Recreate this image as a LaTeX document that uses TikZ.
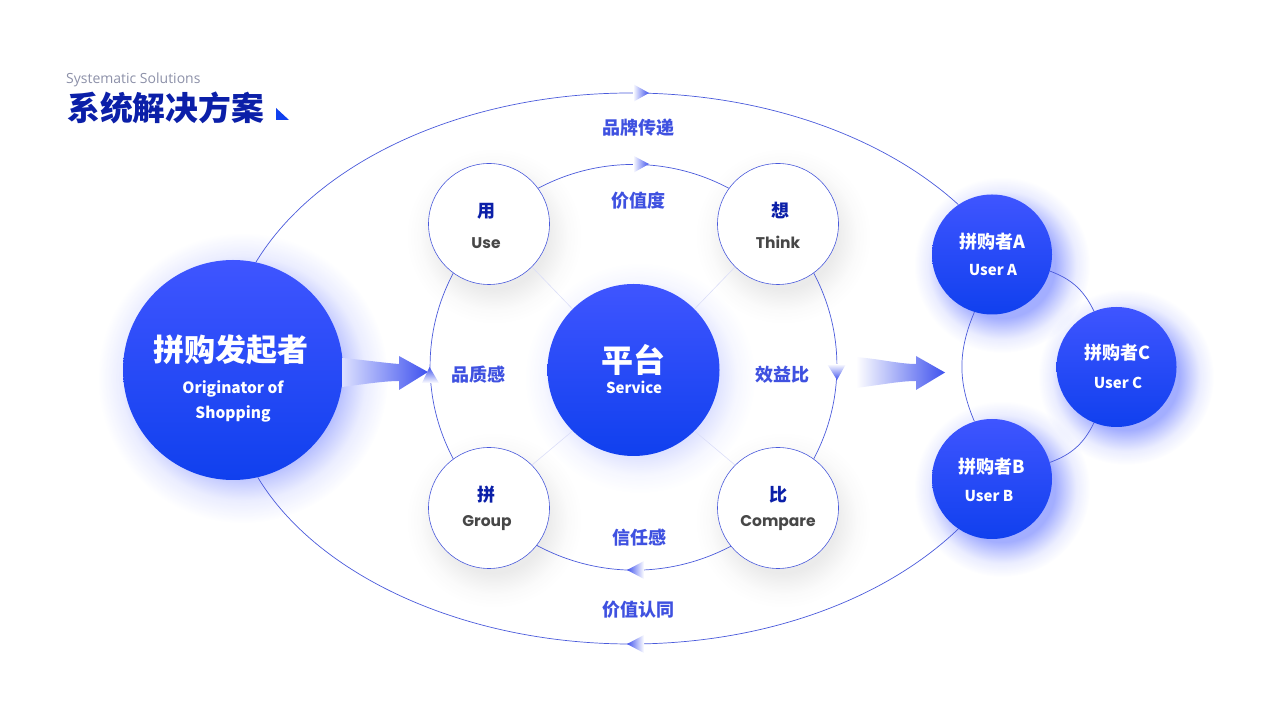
\documentclass[tikz,border=0pt]{standalone}
\usepackage{fontspec}
\setmainfont{Noto Sans CJK SC}
\newfontfamily\pop{Poppins}
\newfontfamily\opn{Open Sans}
\usetikzlibrary{fadings}
\pgfdeclareradialshading{glowsh}{\pgfpointorigin}{rgb(0bp)=(1,1,1); rgb(15bp)=(1,1,1); rgb(18bp)=(.6,.6,.6); rgb(21bp)=(.22,.22,.22); rgb(25bp)=(0,0,0); rgb(100bp)=(0,0,0)}
\pgfdeclarefading{glowfade}{\pgfuseshading{glowsh}}
\definecolor{navy}{HTML}{0B1FA8}
\definecolor{lab}{HTML}{3F51E0}
\definecolor{ln}{HTML}{4A5ADB}
\definecolor{bluetop}{HTML}{3F55FF}
\definecolor{bluebot}{HTML}{1040EE}
\definecolor{arrowblue}{HTML}{3F52EE}
\definecolor{subgray}{HTML}{8C90A8}
\tikzset{
 ballnode/.style={circle,inner sep=0pt,minimum size=#1,top color=bluetop,bottom color=bluebot},
 ringnode/.style={circle,inner sep=0pt,minimum size=121pt,fill=white,draw=ln,line width=.6pt},
 link/.style={draw=ln,line width=.7pt},
 spoke/.style={draw=ln!20,line width=.6pt},
 arcbend/.style={looseness=.91},
 ttl/.style={font=\bfseries\fontsize{#1}{#1}\selectfont,inner sep=0pt,text=white},
 labeltext/.style={font=\bfseries\fontsize{18}{18}\selectfont,inner sep=0pt,text=lab},
 cnname/.style={font=\bfseries\fontsize{18}{18}\selectfont,inner sep=0pt,text=navy},
 enname/.style={font=\pop\bfseries\fontsize{15.5}{15.5}\selectfont,inner sep=0pt,text=black!72},
 glowb/.style={fill=bluetop,fill opacity=.48,path fading=glowfade},
 glowh/.style={fill=bluetop,fill opacity=.22,path fading=glowfade},
 glowg/.style={fill=black,fill opacity=.08,path fading=glowfade},
}
\begin{document}
\begin{tikzpicture}[x=1pt,y=1pt]
\useasboundingbox (0,0) rectangle (1280,720);
% glows
\fill[glowb] (243,342) circle (145);
\fill[glowb] (1002,455) circle (88);
\fill[glowb] (1002,231) circle (88);
\fill[glowb] (1126,343) circle (88);
\fill[glowh] (640,342) circle (115);
\fill[glowg] (494,484) circle (88);
\fill[glowg] (783,484) circle (88);
\fill[glowg] (494,200) circle (88);
\fill[glowg] (783,200) circle (88);
% main nodes
\node[ballnode=220pt] (main) at (233,350) {};
\node[ballnode=172pt] (hub) at (633.5,350) {};
\node[ringnode] (use) at (489,496) {};
\node[ringnode] (think) at (778,496) {};
\node[ringnode] (group) at (489,212) {};
\node[ringnode] (compare) at (778,212) {};
\node[ballnode=120pt] (userA) at (992,465.5) {};
\node[ballnode=120pt] (userB) at (992,241) {};
\node[ballnode=120pt] (userC) at (1116.5,353) {};
% outer connectors
\coordinate (apexT) at (630.7,627);
\coordinate (apexB) at (630.7,76);
\draw[link] (main.78) .. controls (317.9,559.9) and (466.3,627) .. (apexT)
  .. controls (759.9,627) and (881.3,585.4) .. (userA.124);
\draw[link] (userB.236) .. controls (881.3,117.6) and (759.9,76) .. (apexB)
  .. controls (466.3,76) and (317.9,143.1) .. (main.283);
% ring connectors
\draw[link] (use.36) to[bend left=28,arcbend] (think.144);
\draw[link] (think.306) to[bend left=28,arcbend] (compare.54);
\draw[link] (compare.219) to[bend left=28,arcbend] (group.322);
\draw[link] (group.126) to[bend left=28,arcbend] (use.234);
% user connectors
\draw[link] (userA.253) to[bend right=23] (userB.107);
\draw[link] (userA.344) to[bend left=22] (userC.112);
\draw[link] (userC.248) to[bend left=22] (userB.16);
% spokes
\draw[spoke] (hub.135) -- (use.315);
\draw[spoke] (hub.45) -- (think.225);
\draw[spoke] (hub.225) -- (group.45);
\draw[spoke] (hub.315) -- (compare.135);
% wide arrows
\path[left color=bluetop!18,right color=arrowblue] (342,362) .. controls (365,360) and (385,357) .. (399,356)
  -- (399,364) -- (428,348) -- (399,330) -- (399,339) .. controls (385,339) and (365,336) .. (342,333) -- cycle;
\path[left color=white,right color=arrowblue] (856,363) .. controls (880,361) and (900,356) .. (916,356)
  -- (916,364) -- (945,347.5) -- (916,330) -- (916,339) .. controls (900,339) and (880,335) .. (856,332) -- cycle;
% small triangles
\path[bottom color=white,top color=arrowblue] (429.5,353) -- (422,337) -- (439,337) -- cycle;
\path[top color=white,bottom color=arrowblue] (837,340) -- (827,356) -- (846,356) -- cycle;
\path[left color=white,right color=arrowblue] (649,627) -- (633,636) -- (633,618) -- cycle;
\path[left color=white,right color=arrowblue] (649,556) -- (633,564.5) -- (633,547) -- cycle;
\path[right color=white,left color=arrowblue] (627,150) -- (644,159) -- (644,141) -- cycle;
\path[right color=white,left color=arrowblue] (627,76) -- (644,85) -- (644,67) -- cycle;
% title
\node[anchor=west,inner sep=0pt,font=\opn\fontsize{14}{14}\selectfont,text=subgray] (sub) at (66,640) {Systematic Solutions};
\node[anchor=west,inner sep=0pt,font=\bfseries\fontsize{32.8}{32.8}\selectfont,text=navy] (title) at (67,612) {系统解决方案};
\fill[bluebot] (276,612) -- (276,600) -- (289,600) -- cycle;
% texts
\node[ttl=31] (t1) at (231,370) {拼购发起者};
\node[ttl=15.5] (t2) at (233,331) {Originator of};
\node[ttl=15.5] (t3) at (233,306) {Shopping};
\node[ttl=32] (t4) at (633,360) {平台};
\node[ttl=15] (t5) at (634,333) {Service};
\node[cnname] (t6) at (486,509) {用};
\node[enname] (t7) at (486,477) {Use};
\node[cnname] (t8) at (780,510) {想};
\node[enname] (t9) at (778,478) {Think};
\node[cnname] (t10) at (486,225) {拼};
\node[enname] (t11) at (487,197) {Group};
\node[cnname] (t12) at (778,225) {比};
\node[enname] (t13) at (778,197) {Compare};
\node[labeltext] (l1) at (478,345) {品质感};
\node[labeltext] (l2) at (782,345) {效益比};
\node[labeltext] (l3) at (638,519) {价值度};
\node[labeltext] (l4) at (638,592) {品牌传递};
\node[labeltext] (l5) at (639,182) {信任感};
\node[labeltext] (l6) at (638,110) {价值认同};
\node[ttl=18] (u1) at (992,478) {拼购者A};
\node[ttl=15] (u2) at (993,450) {User A};
\node[ttl=18] (u3) at (992,253) {拼购者B};
\node[ttl=15] (u4) at (989,224) {User B};
\node[ttl=18] (u5) at (1117,367) {拼购者C};
\node[ttl=15] (u6) at (1118,337) {User C};
\end{tikzpicture}
\end{document}
